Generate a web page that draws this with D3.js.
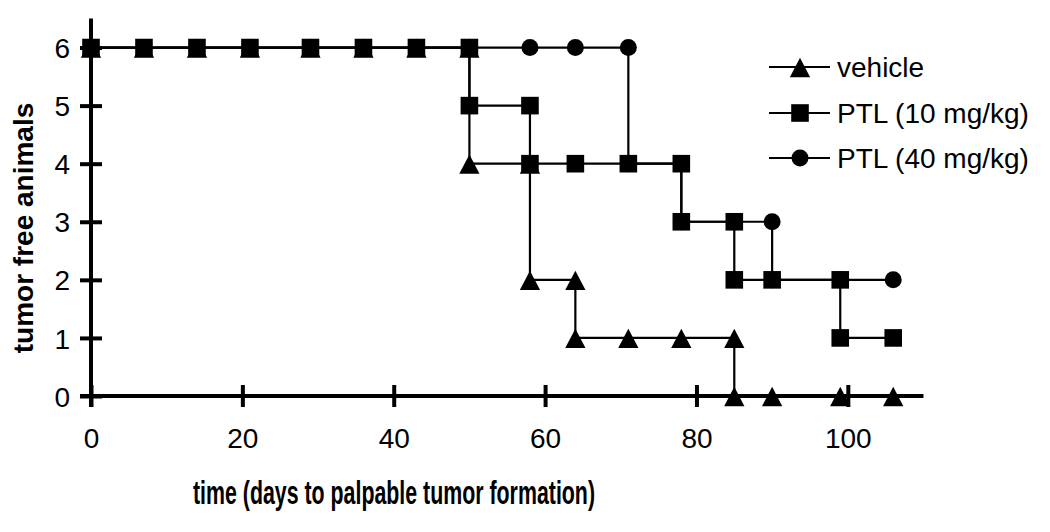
<!DOCTYPE html>
<html>
<head>
<meta charset="utf-8">
<script src="https://cdn.jsdelivr.net/npm/d3@7"></script>
<style>
    html, body { margin: 0; padding: 0; background: #fff; }
    svg { display: block; font-family: "Liberation Sans", Arial, sans-serif; }
</style>
</head>
<body>
<svg id="chart" width="1050" height="532"></svg>
<script>
'use strict';

// observation days and number of tumor free animals after each day
const days = [0, 7, 14, 21, 29, 36, 43, 50, 58, 64, 71, 78, 85, 90, 99, 106];
const vehicle = [6, 6, 6, 6, 6, 6, 6, 4, 2, 1, 1, 1, 0, 0, 0, 0];
const ptl10 = [6, 6, 6, 6, 6, 6, 6, 5, 4, 4, 4, 3, 2, 2, 1, 1];
const ptl40 = [6, 6, 6, 6, 6, 6, 6, 6, 6, 6, 4, 3, 3, 2, 2, 2];

const xTicks = [0, 20, 40, 60, 80, 100];
const yTicks = [0, 1, 2, 3, 4, 5, 6];

const seriesNames = ['vehicle', 'PTL (10 mg/kg)', 'PTL (40 mg/kg)'];

const triangle = {
    draw(context, size) {
        const w = Math.sqrt(size);
        context.moveTo(0, -w * 0.47);
        context.lineTo(w * 0.52, w * 0.52);
        context.lineTo(-w * 0.52, w * 0.52);
        context.closePath();
    }
};

const series = [
    { name: seriesNames[0], counts: vehicle, symbol: triangle, size: 380 },
    { name: seriesNames[1], counts: ptl10, symbol: d3.symbolSquare, size: 310 },
    { name: seriesNames[2], counts: ptl40, symbol: d3.symbolCircle, size: 227 }
];

// circles at the back, squares on top
const drawOrder = [2, 0, 1];

const svg = d3.select('#chart');
const x = d3.scaleLinear().domain([0, 110]).range([91, 923.5]);
const y = d3.scaleLinear().domain([0, 6.5]).range([396, 18.5]);

drawAxes();
drawSeries();
drawLegend();

function stepPoints(counts) {
    const points = [];
    counts.forEach((c, i) => {
        if (i > 0 && counts[i - 1] !== c) points.push([days[i], counts[i - 1]]);
        points.push([days[i], c]);
    });
    return points;
}

function drawAxes() {
    const xAxis = svg.append('g')
        .attr('transform', `translate(0,${y(0)})`)
        .call(d3.axisBottom(x).tickValues(xTicks).tickFormat(d3.format('d')).tickSizeOuter(0).tickSize(11));

    xAxis.select('.domain').remove();
    xAxis.selectAll('.tick line')
        .attr('y1', -11)
        .attr('stroke', '#000')
        .attr('stroke-width', 4);
    xAxis.selectAll('.tick text')
        .attr('y', 52)
        .attr('dy', null)
        .attr('fill', '#000')
        .attr('font-size', 28)
        .attr('font-family', '"Liberation Sans", Arial, sans-serif');

    const yAxis = svg.append('g')
        .attr('transform', `translate(${x(0)},0)`)
        .call(d3.axisLeft(y).tickValues(yTicks).tickFormat(d3.format('d')).tickSizeOuter(0).tickSize(11));

    yAxis.select('.domain').remove();
    yAxis.selectAll('.tick line')
        .attr('x1', 11)
        .attr('stroke', '#000')
        .attr('stroke-width', 4);
    yAxis.selectAll('.tick text')
        .attr('x', -21)
        .attr('dy', '0.36em')
        .attr('fill', '#000')
        .attr('font-size', 28)
        .attr('font-family', '"Liberation Sans", Arial, sans-serif');

    // axis lines
    svg.append('line')
        .attr('x1', x(0) - 11).attr('x2', x(110))
        .attr('y1', y(0)).attr('y2', y(0))
        .attr('stroke', '#000').attr('stroke-width', 4);
    svg.append('line')
        .attr('x1', x(0)).attr('x2', x(0))
        .attr('y1', y(0) + 11).attr('y2', y(6.5))
        .attr('stroke', '#000').attr('stroke-width', 4);

    svg.append('text')
        .attr('x', 193)
        .attr('y', 504)
        .attr('font-size', 33)
        .attr('font-weight', 'bold')
        .attr('textLength', 402)
        .attr('lengthAdjust', 'spacingAndGlyphs')
        .text('time (days to palpable tumor formation)');

    svg.append('text')
        .attr('transform', 'translate(33,228) rotate(-90)')
        .attr('text-anchor', 'middle')
        .attr('font-size', 28)
        .attr('font-weight', 'bold')
        .text('tumor free animals');
}

function drawSeries() {
    const line = d3.line()
        .x(d => x(d[0]))
        .y(d => y(d[1]));

    series.forEach(s => {
        svg.append('path')
            .attr('d', line(stepPoints(s.counts)))
            .attr('fill', 'none')
            .attr('stroke', '#000')
            .attr('stroke-width', 2.2);
    });

    drawOrder.forEach(i => {
        const s = series[i];
        svg.append('g')
            .selectAll('path')
            .data(stepPoints(s.counts))
            .join('path')
            .attr('transform', d => `translate(${x(d[0])},${y(d[1])})`)
            .attr('d', d3.symbol().type(s.symbol).size(s.size))
            .attr('fill', '#000');
    });
}

function drawLegend() {
    const legend = svg.append('g');
    const rowY = [67, 113, 158];

    series.forEach((s, i) => {
        const row = legend.append('g')
            .attr('transform', `translate(0,${rowY[i]})`);

        row.append('line')
            .attr('x1', 769).attr('x2', 830)
            .attr('stroke', '#000').attr('stroke-width', 2.2);

        row.append('path')
            .attr('transform', 'translate(800,0)')
            .attr('d', d3.symbol().type(s.symbol).size(s.size))
            .attr('fill', '#000');

        row.append('text')
            .attr('x', 837)
            .attr('y', 10)
            .attr('font-size', 28)
            .text(s.name);
    });
}
</script>
</body>
</html>
